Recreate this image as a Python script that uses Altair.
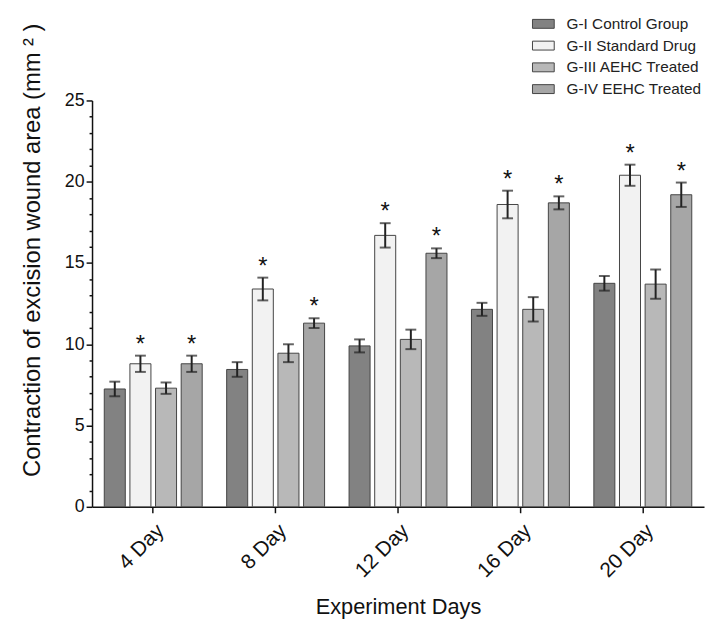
import altair as alt
import pandas as pd

days = ["4 Day", "8 Day", "12 Day", "16 Day", "20 Day"]
groups = ["G-I Control Group", "G-II Standard Drug", "G-III AEHC Treated", "G-IV EEHC Treated"]

g1_mean = [7.25, 8.45, 9.9, 12.15, 13.75]
g1_err = [0.45, 0.45, 0.4, 0.4, 0.45]
g2_mean = [8.8, 13.4, 16.7, 18.6, 20.4]
g2_err = [0.5, 0.7, 0.75, 0.85, 0.65]
g3_mean = [7.3, 9.45, 10.3, 12.15, 13.7]
g3_err = [0.35, 0.55, 0.6, 0.75, 0.9]
g4_mean = [8.8, 11.3, 15.6, 18.7, 19.2]
g4_err = [0.5, 0.3, 0.3, 0.4, 0.75]
g1_sig = ["", "", "", "", ""]
g2_sig = ["*", "*", "*", "*", "*"]
g3_sig = ["", "", "", "", ""]
g4_sig = ["*", "*", "*", "*", "*"]

fills = ["#828282", "#f2f2f2", "#b8b8b8", "#a6a6a6"]

rows = []
for g, ms, es, ss in zip(groups, [g1_mean, g2_mean, g3_mean, g4_mean],
                         [g1_err, g2_err, g3_err, g4_err],
                         [g1_sig, g2_sig, g3_sig, g4_sig]):
    for d, m, e, s in zip(days, ms, es, ss):
        rows.append({"day": d, "group": g, "mean": m, "lo": m - e, "hi": m + e, "sig": s})
df = pd.DataFrame(rows)

FONT = "Liberation Sans"
YTITLE = "Contraction of excision wound area (mm ² )"
XTITLE = "Experiment Days"

x_axis = alt.Axis(labelAngle=-45, labelFontSize=21, labelFont=FONT, labelColor="#111",
                  tickSize=6, tickWidth=1.5, tickColor="#111", domainColor="#111", domainWidth=1.5,
                  labelPadding=7,
                  titleFontSize=22, titleFont=FONT, titleFontWeight="normal", titleColor="#111",
                  titleY=108, titleBaseline="alphabetic")
x_enc = alt.X("day:N", sort=days, title=XTITLE,
              scale=alt.Scale(paddingInner=0.2, paddingOuter=0.1), axis=x_axis)
xo_enc = alt.XOffset("group:N", sort=groups, scale=alt.Scale(paddingInner=0.18, paddingOuter=0))

y_axis = alt.Axis(
    values=list(range(0, 26)),
    labelExpr="datum.value % 5 === 0 ? datum.label : ''",
    labelOverlap=False,
    tickSize={"condition": {"test": "datum.value % 5 === 0", "value": 6}, "value": 3},
    tickWidth=1.5, tickColor="#111", domainColor="#111", domainWidth=1.5,
    labelFontSize=18, labelFont=FONT, labelColor="#111", labelPadding=2,
    titleFontSize=24, titleFont=FONT, titleFontWeight="normal", titleColor="#111",
    titleAngle=-90, titleX=-60, titleY=151, titleAlign="center", titleBaseline="middle",
    grid=False,
)
y_scale = alt.Scale(domain=[0, 25], nice=False)

def yenc(field):
    return alt.Y(field, scale=y_scale, axis=y_axis, title=YTITLE)

base = alt.Chart(df)

bars = base.mark_bar(stroke="#444", strokeWidth=1).encode(
    x=x_enc, xOffset=xo_enc,
    y=yenc("mean:Q"),
    fill=alt.Fill("group:N", sort=groups,
                  scale=alt.Scale(domain=groups, range=fills),
                  legend=alt.Legend(title=None, orient="none", legendX=446, legendY=-88,
                                    symbolType="M-1.1,-0.45H1.1V0.45H-1.1Z", symbolSize=400,
                                    symbolStrokeColor="#444", symbolStrokeWidth=1,
                                    labelFontSize=15.5, labelFont=FONT, labelColor="#222",
                                    rowPadding=3, labelOffset=13)),
)

err = base.mark_rule(color="#222", strokeWidth=2).encode(
    x=x_enc, xOffset=xo_enc, y=yenc("lo:Q"), y2="hi:Q",
)
cap_lo = base.mark_tick(color="#222", thickness=2, size=11).encode(
    x=x_enc, xOffset=xo_enc, y=yenc("lo:Q"),
)
cap_hi = base.mark_tick(color="#222", thickness=2, size=11).encode(
    x=x_enc, xOffset=xo_enc, y=yenc("hi:Q"),
)
stars = base.mark_text(fontSize=24, font=FONT, color="#111", dy=1, baseline="bottom").encode(
    x=x_enc, xOffset=xo_enc, y=yenc("hi:Q"), text="sig:N",
)

chart = alt.layer(bars, err, cap_lo, cap_hi, stars).properties(
    width=619, height=411,
    autosize=alt.AutoSizeParams(type="none"),
    padding={"left": 85, "top": 90, "right": 1, "bottom": 115},
    background="white",
).configure_view(stroke=None).configure_axisY(labelOverlap=False)

chart.save("out.html", embed_options={"renderer": "svg", "actions": False})
